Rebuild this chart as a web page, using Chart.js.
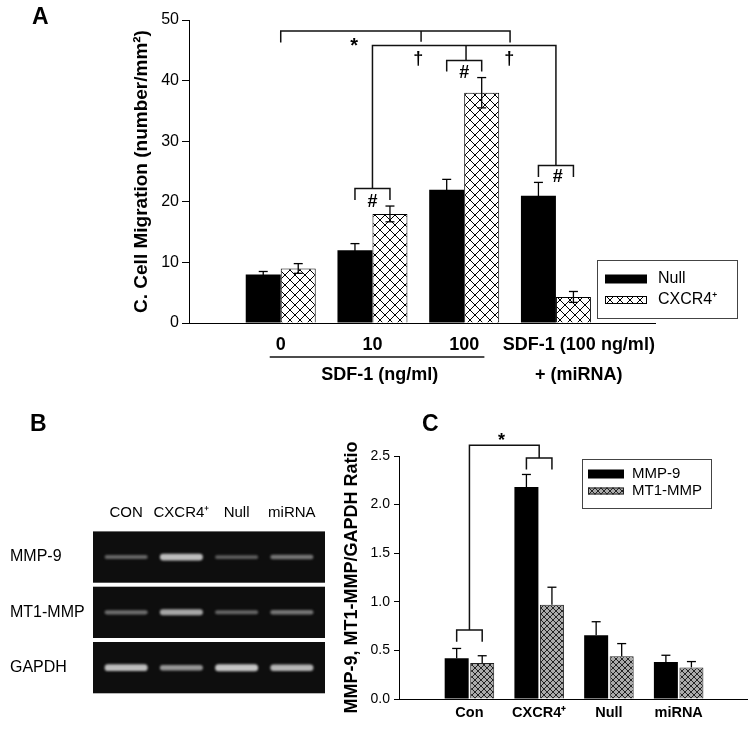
<!DOCTYPE html>
<html>
<head>
<meta charset="utf-8">
<script src="https://cdn.jsdelivr.net/npm/chart.js@4.4.1/dist/chart.umd.min.js"></script>
<style>
  body { margin: 0; background: #fff; }
  #page { position: relative; width: 756px; height: 729px; overflow: hidden; font-family: "Liberation Sans", Arial, sans-serif; }
  canvas { position: absolute; }
  .panel { position: absolute; font-weight: bold; font-size: 23px; line-height: 1; }
</style>
</head>
<body>
<div id="page">
  <canvas id="chartA" width="756" height="400" style="left:0px;top:0px"></canvas>
  <canvas id="gel" width="340" height="320" style="left:0px;top:395px"></canvas>
  <canvas id="chartC" width="416" height="334" style="left:340px;top:395px"></canvas>
  <div class="panel" style="left:32px;top:5px">A</div>
  <div class="panel" style="left:30px;top:412px">B</div>
  <div class="panel" style="left:422px;top:412px">C</div>
</div>
<script>
// A: cell migration
const migGroups = ['0', '10', '100', ['SDF-1 (100 ng/ml)', '+ (miRNA)']];
const nullVals = [8, 12, 22, 21];
const nullErr = [0.5, 1.1, 1.7, 2.2];
const cxcrVals = [9, 18, 38, 4.3];
const cxcrErr = [0.8, 1.3, 2.5, 0.9];

// B: gel bands (relative signal, 0..1)
const lanes = ['CON', 'CXCR4⁺', 'Null', 'miRNA'];
const gelRows = ['MMP-9', 'MT1-MMP', 'GAPDH'];
const mmp9Band = [0.2, 0.75, 0.15, 0.3];
const mt1Band = [0.25, 0.6, 0.2, 0.3];
const gapdhBand = [0.75, 0.5, 0.8, 0.7];

// C: ratio to GAPDH
const ratioGroups = ['Con', 'CXCR4⁺', 'Null', 'miRNA'];
const mmp9Vals = [0.42, 2.18, 0.655, 0.38];
const mmp9Err = [0.10, 0.13, 0.14, 0.07];
const mt1Vals = [0.37, 0.97, 0.44, 0.325];
const mt1Err = [0.075, 0.18, 0.13, 0.06];

Chart.defaults.font.family = '"Liberation Sans", Arial, sans-serif';
Chart.defaults.color = '#000';

function hatch(size, bg, col, lw) {
    const c = document.createElement('canvas');
    c.width = c.height = size;
    const g = c.getContext('2d');
    g.fillStyle = bg;
    g.fillRect(0, 0, size, size);
    g.strokeStyle = col;
    g.lineWidth = lw;
    g.beginPath();
    g.moveTo(-1, -1); g.lineTo(size + 1, size + 1);
    g.moveTo(size + 1, -1); g.lineTo(-1, size + 1);
    g.stroke();
    return g.createPattern(c, 'repeat');
}
const hatchA = hatch(10, '#fff', '#000', 1);
const hatchC = hatch(6, '#aaaaaa', '#222', 1);

function poly(ctx, pts) {
    ctx.beginPath();
    ctx.moveTo(pts[0][0], pts[0][1]);
    pts.slice(1).forEach(p => ctx.lineTo(p[0], p[1]));
    ctx.stroke();
}

// error bars from dataset.errors
const errorBars = {
    id: 'errorBars',
    afterDatasetsDraw(chart, args, o) {
        const ctx = chart.ctx, y = chart.scales.y;
        ctx.save();
        ctx.strokeStyle = '#000';
        ctx.lineWidth = o.lw || 1.3;
        chart.data.datasets.forEach((ds, i) => {
            chart.getDatasetMeta(i).data.forEach((bar, j) => {
                const v = ds.data[j].y, e = ds.errors[j];
                const top = y.getPixelForValue(v + e);
                const bot = y.getPixelForValue(o.both ? v - e : v);
                poly(ctx, [[bar.x, top], [bar.x, bot]]);
                poly(ctx, [[bar.x - 4.5, top], [bar.x + 4.5, top]]);
                if (o.both) poly(ctx, [[bar.x - 4.5, bot], [bar.x + 4.5, bot]]);
            });
        });
        ctx.restore();
    }
};

// framed legend
const boxLegend = {
    id: 'boxLegend',
    afterDraw(chart, args, o) {
        const ctx = chart.ctx;
        ctx.save();
        ctx.strokeStyle = '#444';
        ctx.lineWidth = 1;
        ctx.strokeRect(o.x + 0.5, o.y + 0.5, o.w, o.h);
        chart.data.datasets.forEach((ds, i) => {
            const cy = o.y + o.rows[i];
            const sh = o.sh[i];
            ctx.fillStyle = ds.backgroundColor;
            ctx.fillRect(o.sx + o.x, cy - sh / 2, o.sw, sh);
            if (ds.borderWidth) {
                ctx.strokeStyle = ds.borderColor;
                ctx.strokeRect(o.sx + o.x + 0.5, cy - sh / 2 + 0.5, o.sw - 1, sh - 1);
            }
            ctx.fillStyle = '#000';
            ctx.font = o.font;
            ctx.textBaseline = 'middle';
            ctx.fillText(ds.label, o.x + o.tx, cy);
        });
        ctx.restore();
    }
};

function mark(ctx, txt, x, y, size) {
    ctx.font = 'bold ' + size + 'px "Liberation Sans", Arial, sans-serif';
    ctx.textAlign = 'center';
    ctx.textBaseline = 'middle';
    ctx.fillText(txt, x, y);
}

// significance brackets + grouped x label for A
const annotA = {
    id: 'annotA',
    afterDraw(chart) {
        const ctx = chart.ctx, xs = chart.scales.x, ys = chart.scales.y;
        const X = v => xs.getPixelForValue(v), Y = v => ys.getPixelForValue(v);
        const m0 = chart.getDatasetMeta(0).data, m1 = chart.getDatasetMeta(1).data;
        ctx.save();
        ctx.strokeStyle = '#111';
        ctx.fillStyle = '#000';
        ctx.lineWidth = 1.5;
        poly(ctx, [[X(0), Y(46.3)], [X(0), Y(48.2)], [X(2.5), Y(48.2)], [X(2.5), Y(46.3)]]);
        poly(ctx, [[X(1.53), Y(48.2)], [X(1.53), Y(46.4)]]);
        poly(ctx, [[X(1), Y(22.2)], [X(1), Y(45.8)], [X(3), Y(45.8)], [X(3), Y(26.0)]]);
        poly(ctx, [[X(2.02), Y(45.8)], [X(2.02), Y(43.3)]]);
        [[1, 22.2, 20.3], [2, 43.3, 41.5], [3, 26.0, 24.1]].forEach(([g, top, leg]) => {
            poly(ctx, [[m0[g].x, Y(leg)], [m0[g].x, Y(top)], [m1[g].x, Y(top)], [m1[g].x, Y(leg)]]);
        });
        mark(ctx, '*', X(0.8), Y(45.6), 20);
        mark(ctx, '†', X(1.5), Y(43.6), 18);
        mark(ctx, '†', X(2.49), Y(43.6), 18);
        mark(ctx, '#', X(1), Y(19.9), 18);
        mark(ctx, '#', X(2), Y(41.3), 18);
        mark(ctx, '#', X(3.02), Y(24.1), 18);
        const b = chart.chartArea.bottom;
        poly(ctx, [[X(-0.12), b + 34], [X(2.22), b + 34]]);
        mark(ctx, 'SDF-1 (ng/ml)', X(1.08), b + 52, 18);
        ctx.restore();
    }
};

const annotC = {
    id: 'annotC',
    afterDraw(chart) {
        const ctx = chart.ctx, xs = chart.scales.x, ys = chart.scales.y;
        const X = v => xs.getPixelForValue(v), Y = v => ys.getPixelForValue(v);
        const m0 = chart.getDatasetMeta(0).data, m1 = chart.getDatasetMeta(1).data;
        ctx.save();
        ctx.strokeStyle = '#111';
        ctx.fillStyle = '#000';
        ctx.lineWidth = 1.5;
        poly(ctx, [[m0[0].x, Y(0.59)], [m0[0].x, Y(0.71)], [m1[0].x, Y(0.71)], [m1[0].x, Y(0.59)]]);
        poly(ctx, [[m0[1].x, Y(2.36)], [m0[1].x, Y(2.48)], [m1[1].x, Y(2.48)], [m1[1].x, Y(2.36)]]);
        poly(ctx, [[X(0), Y(0.71)], [X(0), Y(2.61)], [X(1), Y(2.61)], [X(1), Y(2.48)]]);
        mark(ctx, '*', X(0.46), Y(2.657), 18);
        ctx.restore();
    }
};

const gelPlugin = {
    id: 'gelBands',
    beforeDatasetsDraw(chart) {
        const ctx = chart.ctx, a = chart.chartArea, xs = chart.scales.x, ys = chart.scales.y;
        const rowH = ys.getPixelForValue(1) - ys.getPixelForValue(0);
        const bands = [mmp9Band, mt1Band, gapdhBand];
        ctx.save();
        gelRows.forEach((r, i) => {
            const cy = ys.getPixelForValue(i);
            ctx.filter = 'none';
            ctx.fillStyle = '#0e0e0e';
            ctx.fillRect(a.left, cy - rowH / 2 + 2, a.right - a.left, rowH - 4);
            bands[i].forEach((s, j) => {
                const cx = xs.getPixelForValue(j);
                const w = xs.getPixelForValue(0.39) - xs.getPixelForValue(-0.39);
                const h = 3 + 5 * s;
                const g = Math.round(70 + 160 * s);
                ctx.filter = 'blur(1.2px)';
                ctx.fillStyle = 'rgb(' + g + ',' + g + ',' + g + ')';
                ctx.beginPath();
                ctx.roundRect(cx - w / 2, cy - h / 2, w, h, h / 2);
                ctx.fill();
            });
        });
        ctx.restore();
    }
};

// Panel A
new Chart(document.getElementById('chartA'), {
    type: 'bar',
    data: {
        datasets: [
            { label: 'Null', data: nullVals.map((v, i) => ({ x: i, y: v })), errors: nullErr,
              backgroundColor: '#000', borderWidth: 0 },
            { label: 'CXCR4⁺', data: cxcrVals.map((v, i) => ({ x: i, y: v })), errors: cxcrErr,
              backgroundColor: hatchA, borderColor: '#000', borderWidth: 1 }
        ]
    },
    options: {
        responsive: false, animation: false, devicePixelRatio: 1,
        layout: { padding: { left: 110, top: 20, right: 101, bottom: 0 } },
        datasets: { bar: { categoryPercentage: 0.763, barPercentage: 1 } },
        plugins: {
            legend: { display: false }, tooltip: { enabled: false },
            errorBars: { both: true },
            boxLegend: { x: 597, y: 260, w: 140, h: 58, sx: 8, sw: 42, sh: [9, 8], tx: 61, rows: [19, 40],
                         font: '16px "Liberation Sans", Arial, sans-serif' }
        },
        scales: {
            x: {
                type: 'linear', min: -1, max: 4.08, offset: false, bounds: 'data',
                afterBuildTicks: s => { s.ticks = [0, 1, 2, 3.25].map(v => ({ value: v })); },
                ticks: { callback: v => migGroups[Math.round(v)], font: { size: 18, weight: 'bold', lineHeight: 1.667 },
                         padding: 7, maxRotation: 0, minRotation: 0, autoSkip: false },
                grid: { display: false, drawTicks: false },
                border: { display: true, color: '#000', width: 1 },
                afterFit: s => { s.height = 77; }
            },
            y: {
                min: 0, max: 50,
                ticks: { stepSize: 10, font: { size: 16 }, padding: 3 },
                grid: { drawOnChartArea: false, color: '#000', tickLength: 7 },
                border: { color: '#000' },
                title: { display: true, text: 'C. Cell Migration (number/mm²)', font: { size: 19, weight: 'bold' }, padding: { top: 20.5 } },
                afterFit: s => { s.width = 79; }
            }
        }
    },
    plugins: [errorBars, boxLegend, annotA]
});

// Panel B
new Chart(document.getElementById('gel'), {
    type: 'scatter',
    data: { datasets: [] },
    options: {
        responsive: false, animation: false, devicePixelRatio: 1,
        layout: { padding: { left: 10, top: 95, right: 15, bottom: 19.7 } },
        plugins: { legend: { display: false }, tooltip: { enabled: false } },
        scales: {
            x: {
                type: 'linear', position: 'top', min: -0.6, max: 3.6, bounds: 'data',
                afterBuildTicks: s => { s.ticks = lanes.map((l, i) => ({ value: i })); },
                ticks: { callback: v => lanes[Math.round(v)], font: { size: 15 }, padding: 7.4, maxRotation: 0, autoSkip: false },
                grid: { display: false, drawTicks: false },
                border: { display: false },
                afterFit: s => { s.height = 39.4; }
            },
            y: {
                type: 'category', labels: gelRows, offset: true,
                ticks: { font: { size: 16 }, crossAlign: 'far', padding: 0 },
                grid: { display: false, drawTicks: false },
                border: { display: false },
                afterFit: s => { s.width = 83; }
            }
        }
    },
    plugins: [gelPlugin]
});

// Panel C
new Chart(document.getElementById('chartC'), {
    type: 'bar',
    data: {
        datasets: [
            { label: 'MMP-9', data: mmp9Vals.map((v, i) => ({ x: i, y: v })), errors: mmp9Err,
              backgroundColor: '#000', borderWidth: 0 },
            { label: 'MT1-MMP', data: mt1Vals.map((v, i) => ({ x: i, y: v })), errors: mt1Err,
              backgroundColor: hatchC, borderColor: '#222', borderWidth: 1 }
        ]
    },
    options: {
        responsive: false, animation: false, devicePixelRatio: 1,
        layout: { padding: { left: 0, top: 61, right: 9, bottom: 0 } },
        datasets: { bar: { categoryPercentage: 0.732, barPercentage: 0.94 } },
        plugins: {
            legend: { display: false }, tooltip: { enabled: false },
            errorBars: { both: false },
            boxLegend: { x: 242, y: 64, w: 129, h: 49, sx: 6, sw: 36, sh: [9, 7], tx: 50, rows: [15, 32],
                         font: '15px "Liberation Sans", Arial, sans-serif' }
        },
        scales: {
            x: {
                type: 'linear', min: -1.01, max: 3.98, offset: false, bounds: 'data',
                afterBuildTicks: s => { s.ticks = ratioGroups.map((g, i) => ({ value: i })); },
                ticks: { callback: v => ratioGroups[Math.round(v)], font: { size: 14.5, weight: 'bold' },
                         padding: 5.3, maxRotation: 0, minRotation: 0, autoSkip: false },
                grid: { display: false, drawTicks: false },
                border: { display: true, color: '#000', width: 1 },
                afterFit: s => { s.height = 30; }
            },
            y: {
                min: 0, max: 2.5,
                ticks: { stepSize: 0.5, callback: v => v.toFixed(1), font: { size: 14 }, padding: 4 },
                grid: { drawOnChartArea: false, color: '#000', tickLength: 5 },
                border: { color: '#000' },
                title: { display: true, text: 'MMP-9, MT1-MMP/GAPDH Ratio', font: { size: 18, weight: 'bold' }, padding: { top: 1.7 } },
                afterFit: s => { s.width = 59; }
            }
        }
    },
    plugins: [errorBars, boxLegend, annotC]
});
</script>
</body>
</html>
